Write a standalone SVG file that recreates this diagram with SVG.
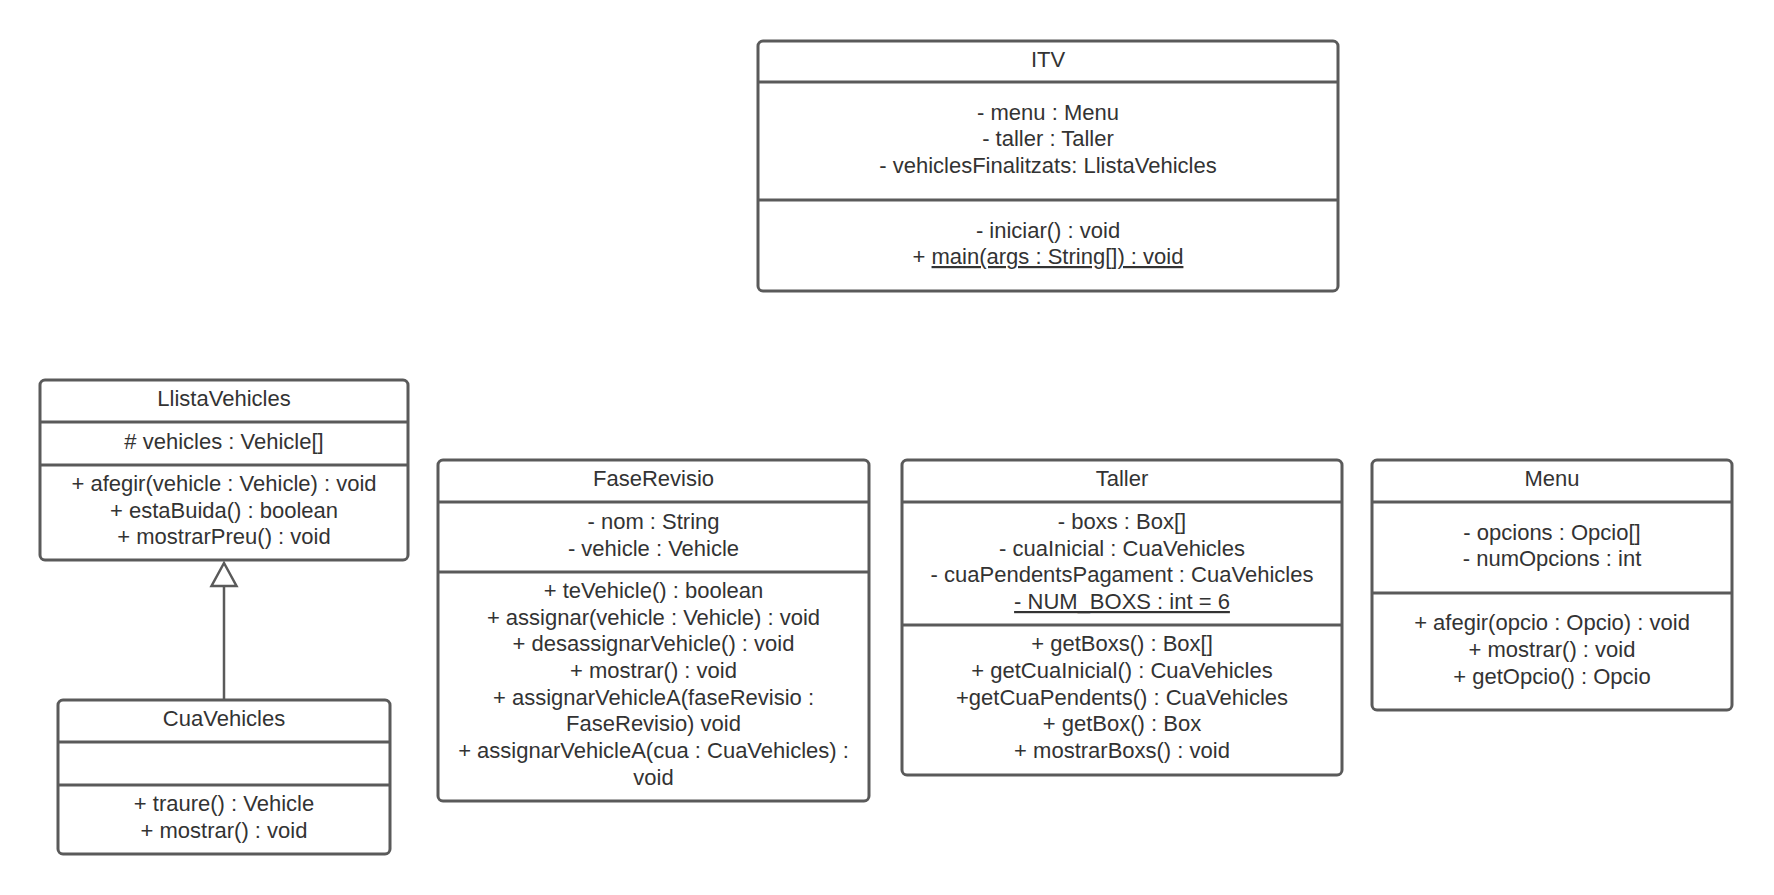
<svg xmlns="http://www.w3.org/2000/svg" width="1774" height="895" viewBox="0 0 1774 895">
  <style>
    .box { fill: #ffffff; stroke: #5a5a5a; stroke-width: 3; }
    .sep { stroke: #5a5a5a; stroke-width: 3; fill: none; }
    .t { font-family: "Liberation Sans", Arial, sans-serif; font-size: 22px; fill: #333333; text-anchor: middle; }
    .u { text-decoration: underline; }
    .edge { stroke: #5a5a5a; stroke-width: 2.5; fill: none; }
    .head { fill: #ffffff; stroke: #5a5a5a; stroke-width: 2.5; }
  </style>
  <rect width="1774" height="895" fill="#ffffff"/>

  <!-- ITV -->
  <g id="itv">
    <rect class="box" x="758" y="41" width="580" height="250" rx="5"/>
    <line class="sep" x1="758" y1="82" x2="1338" y2="82"/>
    <line class="sep" x1="758" y1="200" x2="1338" y2="200"/>
    <text class="t" x="1048" y="67">ITV</text>
    <text class="t" x="1048" y="120">- menu : Menu</text>
    <text class="t" x="1048" y="146">- taller : Taller</text>
    <text class="t" x="1048" y="173">- vehiclesFinalitzats: LlistaVehicles</text>
    <text class="t" x="1048" y="238">- iniciar() : void</text>
    <text class="t" x="1048" y="264">+ <tspan class="u">main(args : String[]) : void</tspan></text>
  </g>

  <!-- LlistaVehicles -->
  <g id="llistavehicles">
    <rect class="box" x="40" y="380" width="368" height="180" rx="5"/>
    <line class="sep" x1="40" y1="422" x2="408" y2="422"/>
    <line class="sep" x1="40" y1="465" x2="408" y2="465"/>
    <text class="t" x="224" y="406">LlistaVehicles</text>
    <text class="t" x="224" y="449"># vehicles : Vehicle[]</text>
    <text class="t" x="224" y="491">+ afegir(vehicle : Vehicle) : void</text>
    <text class="t" x="224" y="518">+ estaBuida() : boolean</text>
    <text class="t" x="224" y="544">+ mostrarPreu() : void</text>
  </g>

  <!-- CuaVehicles -->
  <g id="cuavehicles">
    <rect class="box" x="58" y="700" width="332" height="154" rx="5"/>
    <line class="sep" x1="58" y1="742" x2="390" y2="742"/>
    <line class="sep" x1="58" y1="785" x2="390" y2="785"/>
    <text class="t" x="224" y="726">CuaVehicles</text>
    <text class="t" x="224" y="811">+ traure() : Vehicle</text>
    <text class="t" x="224" y="838">+ mostrar() : void</text>
  </g>

  <!-- FaseRevisio -->
  <g id="faserevisio">
    <rect class="box" x="438" y="460" width="431" height="341" rx="5"/>
    <line class="sep" x1="438" y1="502" x2="869" y2="502"/>
    <line class="sep" x1="438" y1="572" x2="869" y2="572"/>
    <text class="t" x="653.5" y="486">FaseRevisio</text>
    <text class="t" x="653.5" y="529">- nom : String</text>
    <text class="t" x="653.5" y="556">- vehicle : Vehicle</text>
    <text class="t" x="653.5" y="598">+ teVehicle() : boolean</text>
    <text class="t" x="653.5" y="625">+ assignar(vehicle : Vehicle) : void</text>
    <text class="t" x="653.5" y="651">+ desassignarVehicle() : void</text>
    <text class="t" x="653.5" y="678">+ mostrar() : void</text>
    <text class="t" x="653.5" y="705">+ assignarVehicleA(faseRevisio :</text>
    <text class="t" x="653.5" y="731">FaseRevisio) void</text>
    <text class="t" x="653.5" y="758">+ assignarVehicleA(cua : CuaVehicles) :</text>
    <text class="t" x="653.5" y="785">void</text>
  </g>

  <!-- Taller -->
  <g id="taller">
    <rect class="box" x="902" y="460" width="440" height="315" rx="5"/>
    <line class="sep" x1="902" y1="502" x2="1342" y2="502"/>
    <line class="sep" x1="902" y1="625" x2="1342" y2="625"/>
    <text class="t" x="1122" y="486">Taller</text>
    <text class="t" x="1122" y="529">- boxs : Box[]</text>
    <text class="t" x="1122" y="556">- cuaInicial : CuaVehicles</text>
    <text class="t" x="1122" y="582">- cuaPendentsPagament : CuaVehicles</text>
    <text class="t" x="1122" y="609"><tspan class="u">- NUM_BOXS : int = 6</tspan></text>
    <text class="t" x="1122" y="651">+ getBoxs() : Box[]</text>
    <text class="t" x="1122" y="678">+ getCuaInicial() : CuaVehicles</text>
    <text class="t" x="1122" y="705">+getCuaPendents() : CuaVehicles</text>
    <text class="t" x="1122" y="731">+ getBox() : Box</text>
    <text class="t" x="1122" y="758">+ mostrarBoxs() : void</text>
  </g>

  <!-- Menu -->
  <g id="menu">
    <rect class="box" x="1372" y="460" width="360" height="250" rx="5"/>
    <line class="sep" x1="1372" y1="502" x2="1732" y2="502"/>
    <line class="sep" x1="1372" y1="593" x2="1732" y2="593"/>
    <text class="t" x="1552" y="486">Menu</text>
    <text class="t" x="1552" y="540">- opcions : Opcio[]</text>
    <text class="t" x="1552" y="566">- numOpcions : int</text>
    <text class="t" x="1552" y="630">+ afegir(opcio : Opcio) : void</text>
    <text class="t" x="1552" y="657">+ mostrar() : void</text>
    <text class="t" x="1552" y="684">+ getOpcio() : Opcio</text>
  </g>

  <!-- Connectors -->
  <g id="connectors">
    <line class="edge" x1="224" y1="700" x2="224" y2="586"/>
    <polygon class="head" points="224,563 236.5,586 211.5,586"/>
  </g>
</svg>
